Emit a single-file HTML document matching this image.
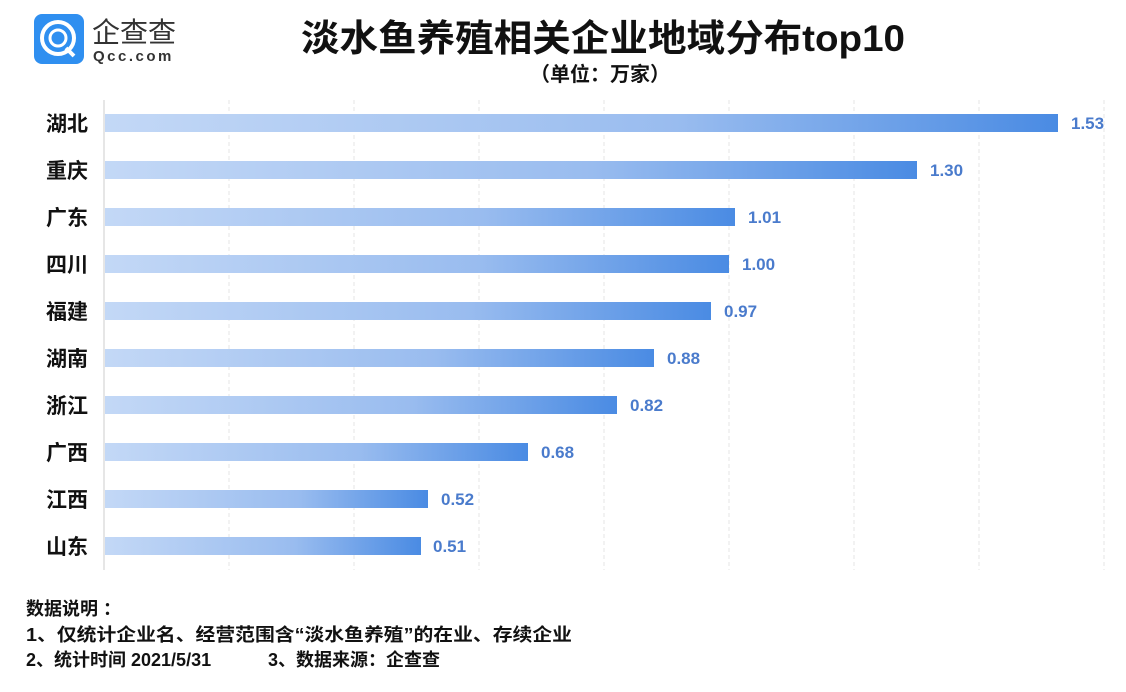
<!DOCTYPE html>
<html><head><meta charset="utf-8"><style>
body{margin:0;background:#fff;width:1126px;height:687px;overflow:hidden}
text{font-family:"Liberation Sans","Noto Sans CJK SC",sans-serif}
</style></head><body>
<svg width="1126" height="687" xmlns="http://www.w3.org/2000/svg">
<defs><linearGradient id="g" x1="0" x2="1" y1="0" y2="0"><stop offset="0" stop-color="#c3d8f6"/><stop offset="0.6" stop-color="#99bcef"/><stop offset="1" stop-color="#4a8be3"/></linearGradient></defs>
<rect x="34" y="14" width="50" height="50" rx="8" fill="#2f8ff0"/>
<circle cx="58" cy="38" r="16" fill="none" stroke="#fff" stroke-width="4"/>
<circle cx="58" cy="38" r="8" fill="none" stroke="#fff" stroke-width="3"/>
<line x1="66" y1="48" x2="74" y2="56" stroke="#fff" stroke-width="4"/>
<text x="92" y="42" font-size="28" fill="#333">企查查</text>
<text x="93" y="61" font-size="15" fill="#333" letter-spacing="2.5" font-weight="bold">Qcc.com</text>
<text x="603" y="51" font-size="37" font-weight="bold" text-anchor="middle" fill="#111" textLength="604" lengthAdjust="spacingAndGlyphs">淡水鱼养殖相关企业地域分布top10</text>
<text x="600" y="81" font-size="20" font-weight="bold" text-anchor="middle" fill="#111">（单位：万家）</text>
<g stroke="#e4e4e4" stroke-dasharray="4,3">
<line x1="229" y1="100" x2="229" y2="570"/><line x1="354" y1="100" x2="354" y2="570"/><line x1="479" y1="100" x2="479" y2="570"/><line x1="604" y1="100" x2="604" y2="570"/><line x1="729" y1="100" x2="729" y2="570"/><line x1="854" y1="100" x2="854" y2="570"/><line x1="979" y1="100" x2="979" y2="570"/><line x1="1104" y1="100" x2="1104" y2="570"/>
</g>
<line x1="104" y1="100" x2="104" y2="570" stroke="#ccc"/>
<g font-size="21" font-weight="bold" fill="#111" text-anchor="end">
<text x="88" y="131">湖北</text><text x="88" y="178">重庆</text><text x="88" y="225">广东</text><text x="88" y="272">四川</text><text x="88" y="319">福建</text><text x="88" y="366">湖南</text><text x="88" y="413">浙江</text><text x="88" y="460">广西</text><text x="88" y="507">江西</text><text x="88" y="554">山东</text>
</g>
<g fill="url(#g)">
<rect x="105" y="114" width="953" height="18"/><rect x="105" y="161" width="812" height="18"/><rect x="105" y="208" width="630" height="18"/><rect x="105" y="255" width="624" height="18"/><rect x="105" y="302" width="606" height="18"/><rect x="105" y="349" width="549" height="18"/><rect x="105" y="396" width="512" height="18"/><rect x="105" y="443" width="423" height="18"/><rect x="105" y="490" width="323" height="18"/><rect x="105" y="537" width="316" height="18"/>
</g>
<g font-size="17" font-weight="bold" fill="#4a7bcc">
<text x="1071" y="129">1.53</text><text x="930" y="176">1.30</text><text x="748" y="223">1.01</text><text x="742" y="270">1.00</text><text x="724" y="317">0.97</text><text x="667" y="364">0.88</text><text x="630" y="411">0.82</text><text x="541" y="458">0.68</text><text x="441" y="505">0.52</text><text x="433" y="552">0.51</text>
</g>
<g font-size="18" font-weight="bold" fill="#111">
<text x="26" y="615">数据说明 ：</text>
<text x="26" y="641" textLength="546" lengthAdjust="spacingAndGlyphs">1、仅统计企业名、经营范围含“淡水鱼养殖”的在业、存续企业</text>
<text x="26" y="666">2、统计时间 2021/5/31</text>
<text x="268" y="666">3、数据来源：企查查</text>
</g>
</svg>
</body></html>
